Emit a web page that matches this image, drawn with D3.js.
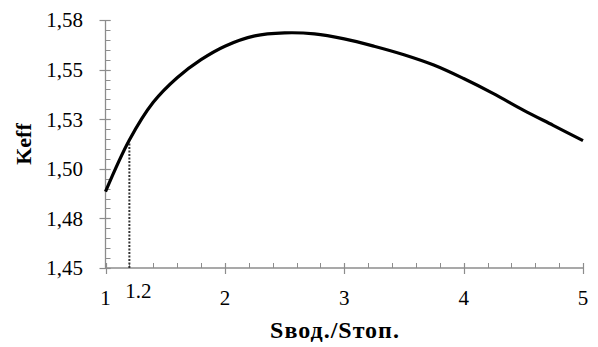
<!DOCTYPE html>
<html>
<head>
<meta charset="utf-8">
<script src="https://cdn.jsdelivr.net/npm/d3@7"></script>
<style>
  html, body { margin: 0; padding: 0; background: #fff; }
  svg { display: block; }
  text { font-family: "Liberation Serif", "Times New Roman", serif; fill: #000; }
</style>
</head>
<body>
<svg id="chart" width="598" height="347"></svg>
<script>
// Area ratio (vault / floor) and the resulting effective coefficient
const ratio = [1.0, 1.2, 1.4, 1.6, 1.8, 2.0, 2.25, 2.5, 2.75, 3.0, 3.25, 3.5, 3.75, 4.0, 4.25, 4.5, 4.75, 5.0];
const keff  = [1.4885, 1.5145, 1.5335, 1.5459, 1.5550, 1.5618, 1.5670, 1.5685, 1.5680, 1.5655, 1.5618, 1.5575, 1.5523, 1.5455, 1.5379, 1.5296, 1.5219, 1.5142];

// Marked ratio with its reference line
const markedRatio = 1.2;
const markedKeff  = 1.5135;
const markedLabel = "1.2";

// Axis ticks
const xMajor = [1, 2, 3, 4, 5];
const xMinor = d3.range(1, 5.0001, 0.2);
const yMajor = [1.45, 1.475, 1.5, 1.525, 1.55, 1.575];
const yMajorLabels = ["1,45", "1,48", "1,50", "1,53", "1,55", "1,58"];
const yMinor = d3.range(1.45, 1.5751, 0.005);

const svg = d3.select("#chart");
const plotLeft = 105.5, plotRight = 583, plotTop = 20, plotBottom = 268;

const x = d3.scaleLinear().domain([1, 5]).range([plotLeft, plotRight]);
const y = d3.scaleLinear().domain([1.45, 1.575]).range([plotBottom, plotTop]);

const axisColor = "#8c8c8c";

// Y axis line
svg.append("line")
  .attr("x1", plotLeft).attr("x2", plotLeft)
  .attr("y1", y(1.575)).attr("y2", y(1.45))
  .attr("stroke", axisColor).attr("stroke-width", 1.3);

// Y minor ticks (inside)
svg.append("g").selectAll("line").data(yMinor).join("line")
  .attr("x1", plotLeft).attr("x2", plotLeft + 5)
  .attr("y1", d => Math.round(y(d)) + 0.5).attr("y2", d => Math.round(y(d)) + 0.5)
  .attr("stroke", axisColor).attr("stroke-width", 1);

// Y major ticks (cross)
svg.append("g").selectAll("line").data(yMajor).join("line")
  .attr("x1", plotLeft - 6).attr("x2", plotLeft + 5)
  .attr("y1", d => Math.round(y(d)) + 0.5).attr("y2", d => Math.round(y(d)) + 0.5)
  .attr("stroke", axisColor).attr("stroke-width", 1.2);

svg.append("g").selectAll("text").data(yMajor).join("text")
  .attr("x", 83).attr("y", d => y(d))
  .attr("dy", "0.35em")
  .attr("text-anchor", "end")
  .attr("font-size", 21)
  .text((d, i) => yMajorLabels[i]);

// X axis line
svg.append("line")
  .attr("x1", x(1)).attr("x2", x(5))
  .attr("y1", plotBottom).attr("y2", plotBottom)
  .attr("stroke", axisColor).attr("stroke-width", 1.3);

// X minor ticks (inside)
svg.append("g").selectAll("line").data(xMinor).join("line")
  .attr("x1", d => Math.round(x(d)) + 0.5).attr("x2", d => Math.round(x(d)) + 0.5)
  .attr("y1", plotBottom - 5).attr("y2", plotBottom)
  .attr("stroke", axisColor).attr("stroke-width", 1);

// X major ticks (cross)
svg.append("g").selectAll("line").data(xMajor).join("line")
  .attr("x1", d => Math.round(x(d)) + 0.5).attr("x2", d => Math.round(x(d)) + 0.5)
  .attr("y1", plotBottom - 5).attr("y2", plotBottom + 6)
  .attr("stroke", axisColor).attr("stroke-width", 1.2);

svg.append("g").selectAll("text").data(xMajor).join("text")
  .attr("x", d => x(d)).attr("y", 305)
  .attr("text-anchor", "middle")
  .attr("font-size", 21)
  .text(d => d);

// Reference line at the marked ratio
svg.append("line")
  .attr("x1", x(markedRatio)).attr("x2", x(markedRatio))
  .attr("y1", y(1.45)).attr("y2", y(markedKeff))
  .attr("stroke", "#333").attr("stroke-width", 2)
  .attr("stroke-dasharray", "2,1.5");

svg.append("text")
  .attr("x", x(markedRatio) + 9).attr("y", 298)
  .attr("text-anchor", "middle")
  .attr("font-size", 21)
  .text(markedLabel);

// Curve
const line = d3.line()
  .x((d, i) => x(ratio[i]))
  .y(d => y(d))
  .curve(d3.curveCatmullRom.alpha(0.5));

svg.append("path")
  .datum(keff)
  .attr("d", line)
  .attr("fill", "none")
  .attr("stroke", "#000")
  .attr("stroke-width", 3.2)
  .attr("stroke-linejoin", "round");

// Axis titles
svg.append("text")
  .attr("transform", "translate(31,144) rotate(-90)")
  .attr("text-anchor", "middle")
  .attr("font-size", 22)
  .attr("font-weight", "bold")
  .text("Keff");

svg.append("text")
  .attr("x", 335).attr("y", 338)
  .attr("text-anchor", "middle")
  .attr("font-size", 24)
  .attr("letter-spacing", 1)
  .attr("font-weight", "bold")
  .text("Sвод./Sтоп.");
</script>
</body>
</html>
